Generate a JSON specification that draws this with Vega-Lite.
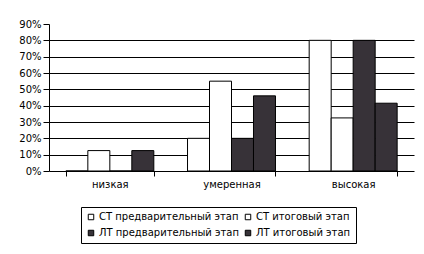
{
  "$schema": "https://vega.github.io/schema/vega-lite/v6.json",
  "width": 365,
  "height": 147,
  "padding": {"left": 18, "top": 19, "right": 6, "bottom": 5},
  "background": "white",
  "data": {
    "values": [
      {"level": "низкая", "series": "СТ предварительный этап", "value": 0},
      {"level": "низкая", "series": "СТ итоговый этап", "value": 0.125},
      {"level": "низкая", "series": "ЛТ предварительный этап", "value": 0},
      {"level": "низкая", "series": "ЛТ итоговый этап", "value": 0.125},
      {"level": "умеренная", "series": "СТ предварительный этап", "value": 0.2},
      {"level": "умеренная", "series": "СТ итоговый этап", "value": 0.55},
      {"level": "умеренная", "series": "ЛТ предварительный этап", "value": 0.2},
      {"level": "умеренная", "series": "ЛТ итоговый этап", "value": 0.46},
      {"level": "высокая", "series": "СТ предварительный этап", "value": 0.8},
      {"level": "высокая", "series": "СТ итоговый этап", "value": 0.325},
      {"level": "высокая", "series": "ЛТ предварительный этап", "value": 0.8},
      {"level": "высокая", "series": "ЛТ итоговый этап", "value": 0.415}
    ]
  },
  "mark": {"type": "bar", "stroke": "black", "strokeWidth": 1},
  "encoding": {
    "x": {
      "field": "level",
      "type": "nominal",
      "sort": ["низкая", "умеренная", "высокая"],
      "scale": {"paddingInner": 0.277, "paddingOuter": 0.1385},
      "axis": {
        "title": null,
        "labelAngle": 0,
        "tickBand": "extent",
        "domainColor": "black",
        "tickColor": "black",
        "tickSize": 5,
        "labelPadding": 3,
        "labelFont": "DejaVu Sans",
        "labelFontSize": 10,
        "labelColor": "black"
      }
    },
    "xOffset": {
      "field": "series",
      "type": "nominal",
      "sort": ["СТ предварительный этап", "СТ итоговый этап", "ЛТ предварительный этап", "ЛТ итоговый этап"],
      "scale": {"paddingInner": 0, "paddingOuter": 0}
    },
    "y": {
      "field": "value",
      "type": "quantitative",
      "scale": {"domain": [0, 0.9], "nice": false},
      "axis": {
        "title": null,
        "format": ".0%",
        "values": [0, 0.1, 0.2, 0.3, 0.4, 0.5, 0.6, 0.7, 0.8, 0.9],
        "grid": true,
        "gridColor": "black",
        "gridOpacity": {"condition": {"test": "datum.value > 0.85 || datum.value < 0.05", "value": 0}, "value": 1},
        "domainColor": "black",
        "tickColor": "black",
        "tickSize": 6,
        "labelPadding": 2,
        "labelFont": "DejaVu Sans",
        "labelFontSize": 10,
        "labelColor": "black"
      }
    },
    "fill": {
      "field": "series",
      "type": "nominal",
      "scale": {
        "domain": ["СТ предварительный этап", "СТ итоговый этап", "ЛТ предварительный этап", "ЛТ итоговый этап"],
        "range": ["white", "white", "#373238", "#373238"]
      },
      "legend": {
        "title": null,
        "orient": "none",
        "legendX": 32,
        "legendY": 183,
        "direction": "horizontal",
        "columns": 2,
        "strokeColor": "black",
        "padding": 5,
        "symbolType": "square",
        "symbolSize": 30,
        "symbolStrokeColor": "black",
        "symbolStrokeWidth": 1,
        "symbolOpacity": 1,
        "labelFont": "DejaVu Sans",
        "labelFontSize": 10,
        "labelColor": "black",
        "labelOffset": 3,
        "rowPadding": 6,
        "columnPadding": 4,
        "labelLimit": 300
      }
    }
  },
  "config": {
    "view": {"stroke": null},
    "axis": {"domainWidth": 1, "tickWidth": 1, "gridWidth": 1}
  }
}
